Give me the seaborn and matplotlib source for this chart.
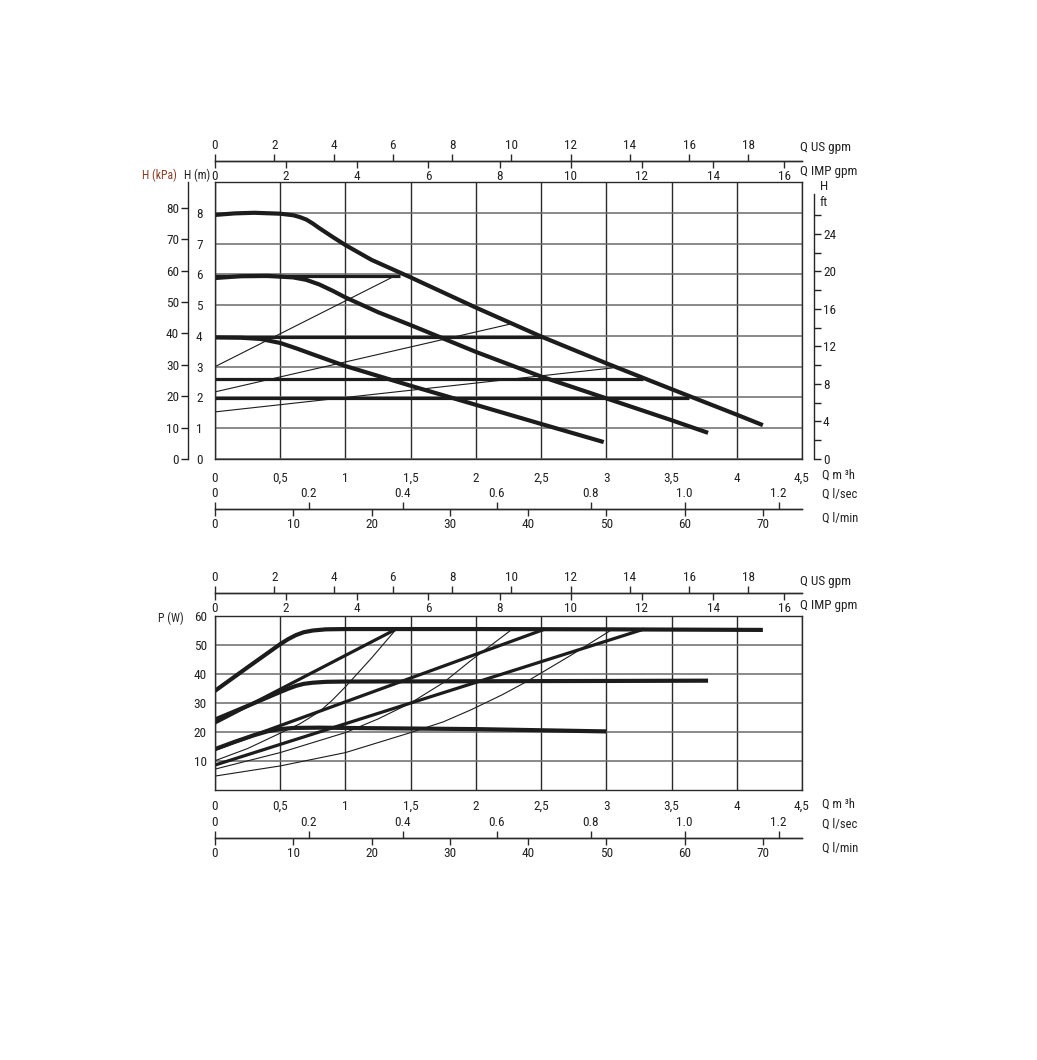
import matplotlib
matplotlib.use('Agg')
import matplotlib.pyplot as plt
from matplotlib import font_manager
import seaborn as sns

# Pump curves.
# Q in m3/h, H in m, P in W

q_ticks = [0, 0.5, 1, 1.5, 2, 2.5, 3, 3.5, 4, 4.5]
q_tick_labels = ['0', '0,5', '1', '1,5', '2', '2,5', '3', '3,5', '4', '4,5']
h_ticks = [0, 1, 2, 3, 4, 5, 6, 7, 8]
kpa_ticks = [0, 10, 20, 30, 40, 50, 60, 70, 80]
ft_ticks = [0, 4, 8, 12, 16, 20, 24]
ft_minor_ticks = [2, 6, 10, 14, 18, 22, 26]
p_ticks = [10, 20, 30, 40, 50, 60]
us_gpm_ticks = [0, 2, 4, 6, 8, 10, 12, 14, 16, 18]
imp_gpm_ticks = [0, 2, 4, 6, 8, 10, 12, 14, 16]
lsec_ticks = [0, 0.2, 0.4, 0.6, 0.8, 1.0, 1.2]
lsec_tick_labels = ['0', '0.2', '0.4', '0.6', '0.8', '1.0', '1.2']
lmin_ticks = [0, 10, 20, 30, 40, 50, 60, 70]

# head curves (three speeds)
head_max_q = [0, 0.15, 0.3, 0.5, 0.6, 0.65, 0.7, 0.75, 0.8, 0.9, 1.0, 1.2, 1.5, 2.0, 2.5, 3.0, 3.5, 4.0, 4.2]
head_max_h = [7.93, 7.98, 8.0, 7.97, 7.92, 7.86, 7.78, 7.65, 7.5, 7.22, 6.95, 6.47, 5.9, 4.92, 3.98, 3.11, 2.27, 1.44, 1.1]
head_mid_q = [0, 0.2, 0.4, 0.6, 0.7, 0.8, 0.9, 1.0, 1.25, 1.5, 2.0, 2.5, 3.0, 3.5, 3.78]
head_mid_h = [5.88, 5.94, 5.95, 5.9, 5.82, 5.67, 5.47, 5.25, 4.77, 4.35, 3.48, 2.68, 1.97, 1.26, 0.85]
head_min_q = [0, 0.2, 0.35, 0.5, 0.62, 0.75, 1.0, 1.5, 2.0, 2.5, 2.98]
head_min_h = [3.95, 3.94, 3.9, 3.77, 3.6, 3.4, 3.02, 2.38, 1.76, 1.14, 0.55]

# constant pressure settings (flat lines)
const_h = [5.95, 3.95, 2.6, 1.98]
const_end_q = [1.42, 2.5, 3.28, 3.63]

# proportional pressure settings (thin lines)
prop_start_h = [3.0, 2.18, 1.53]
prop_end_q = [1.38, 2.28, 3.05]
prop_end_h = [5.95, 4.4, 2.96]

# power curves
power_max_q = [0, 0.25, 0.5, 0.56, 0.62, 0.68, 0.75, 0.85, 1.0, 2.0, 3.0, 4.2]
power_max_p = [34.2, 42.3, 50.3, 52.0, 53.4, 54.4, 55.0, 55.4, 55.5, 55.5, 55.4, 55.2]
power_mid_q = [0, 0.25, 0.5, 0.56, 0.62, 0.68, 0.75, 0.85, 1.0, 2.0, 3.0, 3.78]
power_mid_p = [24.3, 29.0, 33.8, 34.9, 35.9, 36.6, 37.0, 37.3, 37.4, 37.5, 37.6, 37.7]
power_min_q = [0, 0.15, 0.3, 0.4, 0.5, 0.6, 0.8, 1.0, 2.0, 3.0]
power_min_p = [14.1, 16.6, 18.9, 20.2, 21.0, 21.4, 21.5, 21.4, 21.0, 20.2]

# power for constant pressure settings (straight thick lines)
pconst_start_p = [23.1, 14.0, 8.6]
pconst_end_q = [1.39, 2.53, 3.29]
pconst_end_p = [55.5, 55.5, 55.5]

# power for proportional pressure settings (thin curves)
pprop_q = [
    [0, 0.25, 0.5, 0.65, 0.8, 0.9, 1.0, 1.2, 1.39],
    [0, 0.5, 1.0, 1.25, 1.5, 1.75, 1.96, 2.28],
    [0, 0.5, 1.0, 1.5, 1.75, 1.96, 2.2, 2.39, 2.73, 3.05],
]
pprop_p = [
    [10.1, 14.3, 19.6, 22.8, 27.0, 31.0, 35.6, 45.5, 55.5],
    [7.2, 12.9, 19.8, 24.5, 30.0, 37.0, 44.6, 55.5],
    [4.8, 8.3, 12.9, 19.8, 23.5, 27.6, 32.8, 37.4, 46.5, 55.5],
]

# unit conversions for the extra scales
def m3h_to_usgpm(q): return q / 0.2271247
def usgpm_to_m3h(q): return q * 0.2271247
def m3h_to_impgpm(q): return q / 0.2727654
def impgpm_to_m3h(q): return q * 0.2727654
def m3h_to_lsec(q): return q / 3.6
def lsec_to_m3h(q): return q * 3.6
def m3h_to_lmin(q): return q * 1000 / 60
def lmin_to_m3h(q): return q * 60 / 1000
def m_to_kpa(h): return h * 9.80665
def kpa_to_m(h): return h / 9.80665
def m_to_ft(h): return h * 3.28084
def ft_to_m(h): return h / 3.28084


sns.set_theme(style='white')
installed = {f.name for f in font_manager.fontManager.ttflist}
narrow = [n for n in ['Liberation Sans Narrow', 'Arial Narrow', 'Roboto Condensed']
          if n in installed]
plt.rcParams['font.family'] = narrow + ['DejaVu Sans']
if not narrow:
    plt.rcParams['font.stretch'] = 'condensed'
plt.rcParams['text.color'] = '#222222'
plt.rcParams['xtick.color'] = '#222222'
plt.rcParams['ytick.color'] = '#222222'

INK = '#1c1c1c'
FS = 9.5
W, H = 1037, 1060

fig = plt.figure(figsize=(W / 100, H / 100), dpi=100)


def px_rect(left, top, right, bottom):
    return [left / W, 1 - bottom / H, (right - left) / W, (bottom - top) / H]


def label(x, y, s, **kw):
    fig.text(x / W, 1 - y / H, s, fontsize=kw.pop('fontsize', FS), va='center', **kw)


def curve(ax, q, v, lw, color=INK):
    sns.lineplot(x=q, y=v, ax=ax, color=color, linewidth=lw, estimator=None,
                 sort=False, solid_capstyle='butt', solid_joinstyle='round')


def frame(ax, ylim, yticks):
    ax.set_xlim(0, 4.5)
    ax.set_ylim(*ylim)
    ax.set_xticks(q_ticks)
    ax.set_xticklabels(q_tick_labels)
    ax.set_yticks(yticks)
    ax.set_yticklabels([str(t) for t in yticks])
    ax.xaxis.grid(True, color='#2a2a2a', linewidth=1.0)
    ax.yaxis.grid(True, color='#6a6a6a', linewidth=1.1)
    ax.set_axisbelow(True)
    for sp in ax.spines.values():
        sp.set_color('#2a2a2a')
        sp.set_linewidth(1.0)
    ax.tick_params(axis='both', length=0, labelsize=FS)
    ax.set_xlabel('')
    ax.set_ylabel('')


def sec_x(ax, loc, funcs, ticks, labels, align):
    s = ax.secondary_xaxis(loc, functions=funcs)
    s.set_xticks(ticks)
    s.set_xticklabels(labels)
    s.set_alignment(align)
    s.spines[align].set_linewidth(1.0)
    s.spines[align].set_color('#2a2a2a')
    s.tick_params(axis='x', direction='out', length=5, width=1.0, pad=1.5,
                  labelsize=FS, color='#2a2a2a')
    return s


def gpm_and_flow_scales(ax, top_loc, bot_loc):
    sec_x(ax, top_loc, (m3h_to_usgpm, usgpm_to_m3h), us_gpm_ticks,
          [str(t) for t in us_gpm_ticks], 'top')
    sec_x(ax, top_loc, (m3h_to_impgpm, impgpm_to_m3h), imp_gpm_ticks,
          [str(t) for t in imp_gpm_ticks], 'bottom')
    sec_x(ax, bot_loc, (m3h_to_lsec, lsec_to_m3h), lsec_ticks, lsec_tick_labels, 'top')
    sec_x(ax, bot_loc, (m3h_to_lmin, lmin_to_m3h), lmin_ticks,
          [str(t) for t in lmin_ticks], 'bottom')


# ---------------- head chart ----------------
ax1 = fig.add_axes(px_rect(215, 182, 802, 459))
frame(ax1, (0, 9), h_ticks)
ax1.tick_params(axis='x', pad=9)
ax1.tick_params(axis='y', pad=9)

for h, qe in zip(const_h, const_end_q):
    curve(ax1, [0, qe], [h, h], 2.3)
for h0, qe, he in zip(prop_start_h, prop_end_q, prop_end_h):
    curve(ax1, [0, qe], [h0, he], 0.8)
curve(ax1, head_min_q, head_min_h, 3.0)
curve(ax1, head_mid_q, head_mid_h, 3.0)
curve(ax1, head_max_q, head_max_h, 3.0)

gpm_and_flow_scales(ax1, 1 + (182 - 161) / 277, -(509 - 459) / 277)

kpa = ax1.secondary_yaxis(-(215 - 188) / 587, functions=(m_to_kpa, kpa_to_m))
kpa.set_yticks(kpa_ticks)
kpa.set_yticklabels([str(t) for t in kpa_ticks])
kpa.spines['left'].set_linewidth(1.0)
kpa.tick_params(axis='y', direction='out', length=5, width=1.0, pad=1.5, labelsize=FS)

ft = ax1.secondary_yaxis(1 + (814 - 802) / 587, functions=(m_to_ft, ft_to_m))
ft.set_yticks(ft_ticks)
ft.set_yticklabels([str(t) for t in ft_ticks])
ft.set_yticks(ft_minor_ticks, minor=True)
ft.spines['right'].set_linewidth(1.0)
ft.spines['right'].set_bounds(0, 28.2)
ft.tick_params(axis='y', which='both', direction='out', length=5, width=1.0,
               pad=1.5, labelsize=FS)

label(800, 148, 'Q US gpm')
label(800, 172, 'Q IMP gpm')
label(142, 175, 'H (kPa)', color='#8a3b22', fontsize=8.5)
label(184, 175, 'H (m)', fontsize=8.5)
label(820, 186, 'H')
label(820, 202, 'ft')
label(822, 475, 'Q m \u00b3h', fontsize=9)
label(822, 494, 'Q l/sec', fontsize=9)
label(822, 518, 'Q l/min', fontsize=9)

# ---------------- power chart ----------------
ax2 = fig.add_axes(px_rect(215, 616, 802, 790))
frame(ax2, (0, 60), p_ticks)
ax2.tick_params(axis='x', pad=7)
ax2.tick_params(axis='y', pad=6)

for qs, ps in zip(pprop_q, pprop_p):
    curve(ax2, qs, ps, 0.8)
for p0, qe, pe in zip(pconst_start_p, pconst_end_q, pconst_end_p):
    curve(ax2, [0, qe], [p0, pe], 2.3)
curve(ax2, power_min_q, power_min_p, 3.0)
curve(ax2, power_mid_q, power_mid_p, 3.0)
curve(ax2, power_max_q, power_max_p, 3.0)

gpm_and_flow_scales(ax2, 1 + (616 - 593) / 174, -(838 - 790) / 174)

label(800, 581, 'Q US gpm')
label(800, 606, 'Q IMP gpm')
label(158, 618, 'P (W)', fontsize=8.5)
label(822, 804, 'Q m \u00b3h', fontsize=9)
label(822, 824, 'Q l/sec', fontsize=9)
label(822, 848, 'Q l/min', fontsize=9)

fig.savefig('out.png', dpi=100, facecolor='white')
